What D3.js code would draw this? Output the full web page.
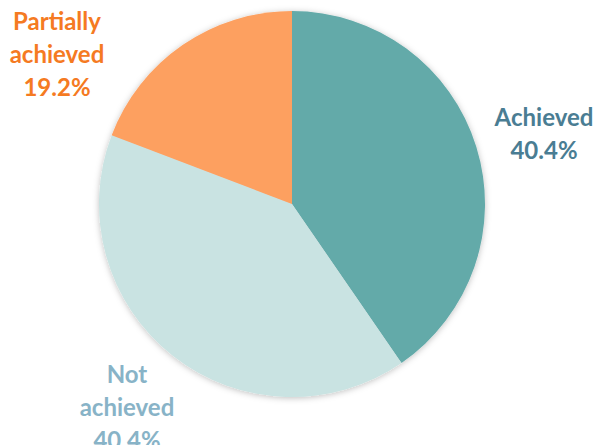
<!DOCTYPE html>
<html>
<head>
<meta charset="utf-8">
<script src="https://cdn.jsdelivr.net/npm/d3@7"></script>
<style>
  body { margin: 0; background: #fff; }
  .lbl { font-family: Lato, "Open Sans", sans-serif; font-weight: bold; font-size: 24px; }
</style>
</head>
<body>
<div id="chart"></div>
<script>
const categories = ["Achieved", "Not achieved", "Partially achieved"];
const shares = [40.4, 40.4, 19.2];
const sliceColors = ["#63aaa9", "#c9e3e2", "#fda060"];
const labelColors = ["#4a7d93", "#88b3c7", "#f57a22"];
// label lines and anchor spots, split by hand as in the picture
const labelLines = [["Achieved", "40.4%"], ["Not", "achieved", "40.4%"], ["Partially", "achieved", "19.2%"]];
const labelPos = [[544, 126], [127, 383], [57, 30]];

const width = 596, height = 445;
const cx = 292, cy = 204, radius = 193;

const svg = d3.select('#chart').append('svg')
    .attr('width', width)
    .attr('height', height);

const defs = svg.append('defs');
const shadow = defs.append('filter').attr('id', 'shadow')
    .attr('x', '-10%').attr('y', '-10%').attr('width', '120%').attr('height', '120%');
shadow.append('feDropShadow')
    .attr('dx', 0).attr('dy', 1)
    .attr('stdDeviation', 3)
    .attr('flood-color', '#000')
    .attr('flood-opacity', 0.25);

const pie = d3.pie().sort(null).value(d => d)(shares);
const arc = d3.arc().innerRadius(0).outerRadius(radius);

const g = svg.append('g')
    .attr('transform', 'translate(' + cx + ',' + cy + ')')
    .attr('filter', 'url(#shadow)');

g.selectAll('path')
    .data(pie)
    .enter().append('path')
    .attr('d', arc)
    .attr('fill', (d, i) => sliceColors[i]);

const labels = svg.selectAll('.lbl')
    .data(categories)
    .enter().append('text')
    .attr('class', 'lbl')
    .attr('text-anchor', 'middle')
    .attr('fill', (d, i) => labelColors[i]);

labels.each(function(d, i) {
    const t = d3.select(this);
    labelLines[i].forEach((line, j) => {
        t.append('tspan')
            .attr('x', labelPos[i][0])
            .attr('y', labelPos[i][1] + j * 33)
            .text(line);
    });
});
</script>
</body>
</html>
